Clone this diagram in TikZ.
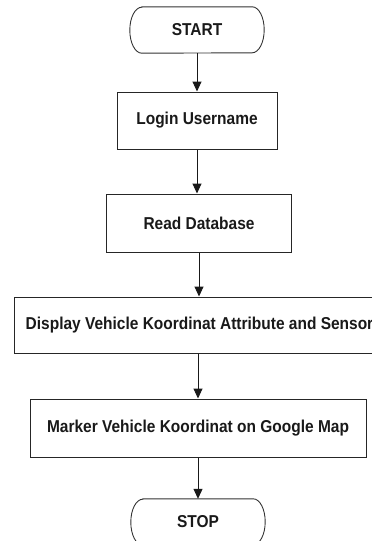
\documentclass[tikz,border=0pt]{standalone}
\usepackage{fontspec}
\setmainfont{Liberation Sans}
\newfontfamily\boxfont[FakeStretch=0.9]{Liberation Sans}
\usetikzlibrary{arrows.meta}
\begin{document}
\begin{tikzpicture}[x=1pt,y=-1pt,
  txt/.style={font=\boxfont\fontsize{17.2pt}{20pt}\selectfont\bfseries, text=black!90},
  procbox/.style={txt, draw=black!85, line width=1pt, inner sep=0pt, rectangle},
  termnode/.style={txt, inner sep=0pt, minimum width=134pt, minimum height=46pt},
  termline/.style={draw=black!80, line width=0.9pt},
  flow/.style={draw=black!90, line width=1pt, -{Triangle[length=10pt,width=9pt]}}
]
\useasboundingbox (0,0) rectangle (372,541);
\clip (0,0) rectangle (372,541);

\node[termnode] (start) at (197,30) {START};
\node[procbox, minimum width=160pt, minimum height=57pt] (login) at (197,120.5) {Login Username};
\node[procbox, minimum width=185pt, minimum height=58pt] (read) at (199,223) {Read Database};
\node[procbox, minimum width=371pt, minimum height=56pt] (disp) at (199.5,325) {Display Vehicle Koordinat Attribute and Sensor};
\node[procbox, minimum width=336pt, minimum height=58pt] (mark) at (198,428) {Marker Vehicle Koordinat on Google Map};
\node[termnode] (stop) at (198,522) {STOP};

% terminal outlines
\foreach \t in {start,stop}{
  \draw[termline] ([xshift=12pt]\t.north west) -- ([xshift=-12pt]\t.north east)
    arc[start angle=90,end angle=-90,x radius=12pt,y radius=23pt]
    -- ([xshift=12pt]\t.south west)
    arc[start angle=270,end angle=90,x radius=12pt,y radius=23pt] -- cycle;
}

\draw[flow] (start.south) -- (start.south |- login.north);
\draw[flow] (login.south) -- (login.south |- read.north);
\draw[flow] (read.south) -- (read.south |- disp.north);
\draw[flow] (disp.south -| mark.south) -- (mark.north);
\draw[flow] (mark.south) -- (mark.south |- stop.north);
\end{tikzpicture}
\end{document}
